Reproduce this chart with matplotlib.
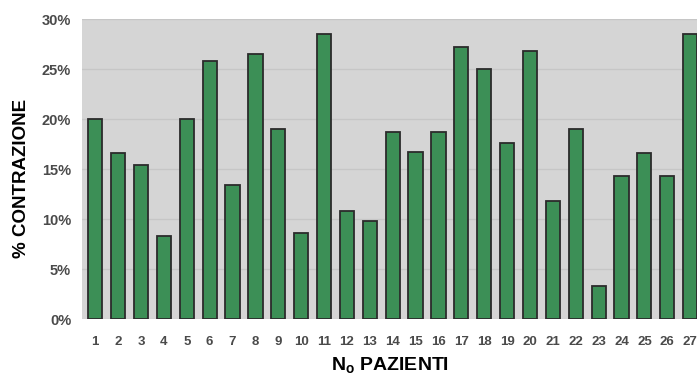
import numpy as np
import matplotlib.pyplot as plt
from matplotlib.ticker import PercentFormatter

# % contrazione per paziente
pazienti = list(range(1, 28))
contrazione = [20.0, 16.6, 15.4, 8.3, 20.0, 25.8, 13.4, 26.5, 19.0, 8.6,
               28.5, 10.8, 9.8, 18.7, 16.7, 18.7, 27.2, 25.0, 17.6, 26.8,
               11.8, 19.0, 3.3, 14.3, 16.6, 14.3, 28.5]
y_ticks = [0, 5, 10, 15, 20, 25, 30]

plt.rcParams['font.family'] = ['Liberation Sans', 'DejaVu Sans']
plt.rcParams['mathtext.fontset'] = 'custom'
plt.rcParams['mathtext.rm'] = 'Liberation Sans'
plt.rcParams['mathtext.bf'] = 'Liberation Sans:bold'

fig = plt.figure(figsize=(6.97, 3.75), dpi=100)
ax = fig.add_axes([0.118, 0.149, 0.882, 0.800])

ax.set_facecolor('#d5d5d5')
ax.grid(axis='y', color='#c6c6c6', linewidth=1.0)
ax.set_axisbelow(True)

ax.bar(pazienti, contrazione, width=0.62, color='#3c8f56',
       edgecolor='#2b2b2b', linewidth=1.3)

ax.set_xlim(0.43, 27.3)
ax.set_ylim(0, 30)
ax.set_yticks(y_ticks)
ax.yaxis.set_major_formatter(PercentFormatter(decimals=0))
ax.set_xticks(pazienti)

for s in ax.spines.values():
    s.set_visible(False)
ax.tick_params(axis='both', length=0, colors='#4a4a4a')
ax.tick_params(axis='y', pad=8, labelsize=10.5)
ax.tick_params(axis='x', pad=12, labelsize=9.5)
for lbl in ax.get_xticklabels() + ax.get_yticklabels():
    lbl.set_fontweight('bold')

ax.set_ylabel('% CONTRAZIONE', fontsize=13.5, fontweight='bold', labelpad=6)
ax.yaxis.set_label_coords(-0.085, 0.47)
ax.set_xlabel(r'N$_\mathbf{o}$ PAZIENTI', fontsize=14, fontweight='bold',
              labelpad=6)

plt.savefig('out.png', dpi=100)
plt.close()
